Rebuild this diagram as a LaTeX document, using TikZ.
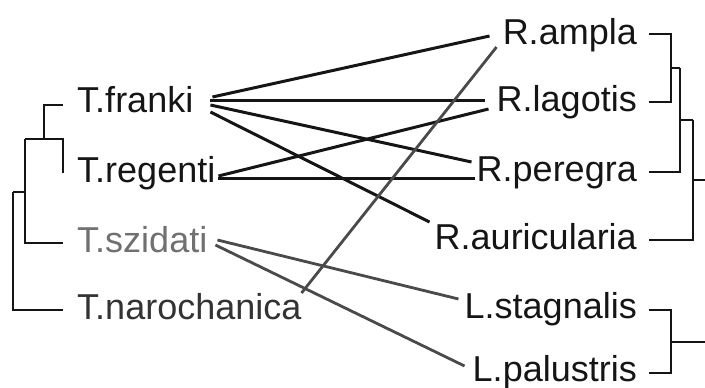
\documentclass[tikz,border=0pt]{standalone}
\usepackage{fontspec}
\setmainfont{Liberation Sans}
\usetikzlibrary{calc}
\definecolor{ink}{HTML}{151515}
\definecolor{greyink}{HTML}{4A4A4A}
\definecolor{greytext}{HTML}{707070}
\definecolor{darktext}{HTML}{333333}
\begin{document}
\begin{tikzpicture}[x=1pt,y=-1pt,
  taxon/.style={inner sep=0pt,font=\fontsize{36}{40}\selectfont,text=ink},
  tree/.style={draw=ink,line width=2.7pt,line cap=butt,line join=miter},
  link/.style={draw=ink,line width=3pt},
  greylink/.style={draw=greyink,line width=2.8pt}]
\useasboundingbox (0,0) rectangle (705,388);

% parasite labels (left)
\node[taxon,anchor=base west] (fr) at (77,112) {T.franki};
\node[taxon,anchor=base west] (rg) at (77,182) {T.regenti};
\node[taxon,anchor=base west,text=greytext] (sz) at (77,252) {T.szidati};
\node[taxon,anchor=base west,text=darktext] (nar) at (77,319) {T.narochanica};

% host labels (right)
\node[taxon,anchor=base east] (amp) at (637,44) {R.ampla};
\node[taxon,anchor=base east] (lag) at (637,111) {R.lagotis};
\node[taxon,anchor=base east] (per) at (637,181) {R.peregra};
\node[taxon,anchor=base east] (aur) at (637,249) {R.auricularia};
\node[taxon,anchor=base east] (sta) at (637,318) {L.stagnalis};
\node[taxon,anchor=base east] (pal) at (637,381) {L.palustris};

% left tree
\draw[tree] ($(fr.base west)+(-14,-7)$) -| (44,139) -| ($(rg.base west)+(-14,-9)$);
\draw[tree] (25,139) -- (44,139);
\draw[tree] (25,139) |- ($(sz.base west)+(-14,-9)$);
\draw[tree] (13,192) -- (25,192);
\draw[tree] (13,192) |- ($(nar.base west)+(-14,-9)$);

% right tree
\draw[tree] ($(amp.base east)+(12,-10)$) -| (671,102) -- ($(lag.base east)+(12,-9)$);
\draw[tree] (671,68) -- (680,68);
\draw[tree] (680,68) |- ($(per.base east)+(12,-9)$);
\draw[tree] (680,120) -- (693,120);
\draw[tree] (693,120) |- ($(aur.base east)+(12,-9)$);
\draw[tree] (693,180) -- (705,180);
\draw[tree] ($(sta.base east)+(12,-8)$) -| (671,373) -- ($(pal.base east)+(12,-8)$);
\draw[tree] (671,342) -- (705,342);

% associations
\draw[link] ($(fr.base east)+(19,-15)$) -- ($(amp.base west)+(-13,-8)$);
\draw[link] ($(fr.base east)+(17,-12)$) -- ($(lag.base west)+(-12,-11)$);
\draw[link] ($(fr.base east)+(17,-7)$) -- ($(per.base west)+(-5,-19)$);
\draw[link] ($(fr.base east)+(17,0)$) -- ($(aur.base west)+(-5,-27)$);
\draw[link] ($(rg.base east)+(3,-6)$) -- ($(lag.base west)+(-8,-2)$);
\draw[link] ($(rg.base east)+(3,-4)$) -- ($(per.base west)+(-2,-3)$);
\draw[greylink] ($(sz.base east)+(10,-12)$) -- ($(sta.base west)+(-6,-19)$);
\draw[greylink] ($(sz.base east)+(8,-7)$) -- ($(pal.base west)+(-8,-15)$);
\draw[greylink] ($(nar.base east)+(0,-26)$) -- ($(amp.base west)+(-6,3)$);
\end{tikzpicture}
\end{document}
